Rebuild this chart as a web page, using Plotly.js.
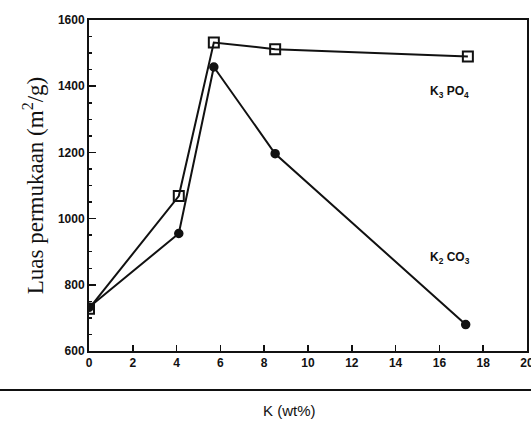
<!DOCTYPE html>
<html><head><meta charset="utf-8">
<script src="https://cdn.plot.ly/plotly-3.0.1.min.js"></script>
<style>body{margin:0;background:#fff}#c{width:531px;height:423px}</style>
</head><body><div id="c"></div>
<script>
const k3po4_x = [0, 4.1, 5.7, 8.5, 17.3];
const k3po4_y = [728, 1068, 1532, 1512, 1490];
const k2co3_x = [0, 4.1, 5.7, 8.5, 17.2];
const k2co3_y = [732, 955, 1458, 1196, 680];
const xTicks = [0, 2, 4, 6, 8, 10, 12, 14, 16, 18, 20];
const yTicks = [600, 800, 1000, 1200, 1400, 1600];

const L = 89, R = 4, T = 20, B = 72, W = 531, H = 423;
const pw = W - L - R, ph = H - T - B;

const traces = [
  {x: k2co3_x, y: k2co3_y, mode: 'lines+markers', name: 'K2CO3',
   line: {color: '#111', width: 2},
   marker: {symbol: 'circle', size: 8, color: '#111', line: {color: '#111', width: 1.5}}},
  {x: k3po4_x, y: k3po4_y, mode: 'lines+markers', name: 'K3PO4',
   line: {color: '#111', width: 2},
   marker: {symbol: 'square-open', size: 10, color: '#111', line: {width: 2}}}
];

const tickFont = {family: 'Liberation Sans, Arial', size: 12, color: '#111', weight: 'bold'};

const layout = {
  width: W, height: H,
  margin: {l: L, r: R, t: T, b: B},
  paper_bgcolor: '#fff', plot_bgcolor: '#fff',
  showlegend: false,
  xaxis: {range: [0, 20], tickvals: xTicks, ticktext: xTicks.map(String),
    ticks: 'inside', ticklen: 6, tickwidth: 1.5, tickcolor: '#111',
    ticklabeloverflow: 'allow',
    showline: true, linecolor: '#111', linewidth: 2, mirror: true,
    showgrid: false, zeroline: false, tickfont: tickFont},
  yaxis: {range: [600, 1600], tickvals: yTicks, ticktext: yTicks.map(String),
    ticks: 'inside', ticklen: 7, tickwidth: 1.5, tickcolor: '#111',
    minor: {ticks: 'inside', ticklen: 3, dtick: 50, tickcolor: '#111'},
    showline: true, linecolor: '#111', linewidth: 2, mirror: true,
    showgrid: false, zeroline: false, tickfont: tickFont,
    title: {text: 'Luas permukaan (m<sup>2</sup>/g)', standoff: 8,
      font: {family: 'Liberation Serif, Times New Roman', size: 23, color: '#111'}}},
  shapes: [{type: 'line', xref: 'paper', yref: 'paper',
    x0: -L / pw, x1: (W - L) / pw, y0: -(390 - (T + ph)) / ph, y1: -(390 - (T + ph)) / ph,
    line: {color: '#111', width: 2}}],
  annotations: [
    {xref: 'paper', yref: 'paper', x: (289 - L) / pw, y: -(410 - (T + ph)) / ph,
     text: 'K (wt%)', showarrow: false, xanchor: 'center', yanchor: 'middle',
     font: {family: 'Liberation Sans, Arial', size: 15, color: '#111'}},
    {xref: 'paper', yref: 'paper', x: (428 - L) / pw, y: 1 - (92 - T) / ph,
     text: 'K<sub>3</sub> PO<sub>4</sub>', showarrow: false, xanchor: 'left', yanchor: 'middle',
     font: {family: 'Liberation Sans, Arial', size: 12, color: '#111', weight: 'bold'}},
    {xref: 'paper', yref: 'paper', x: (428 - L) / pw, y: 1 - (258 - T) / ph,
     text: 'K<sub>2</sub> CO<sub>3</sub>', showarrow: false, xanchor: 'left', yanchor: 'middle',
     font: {family: 'Liberation Sans, Arial', size: 12, color: '#111', weight: 'bold'}}
  ]
};
Plotly.newPlot('c', traces, layout, {displayModeBar: false, staticPlot: true});
</script></body></html>
